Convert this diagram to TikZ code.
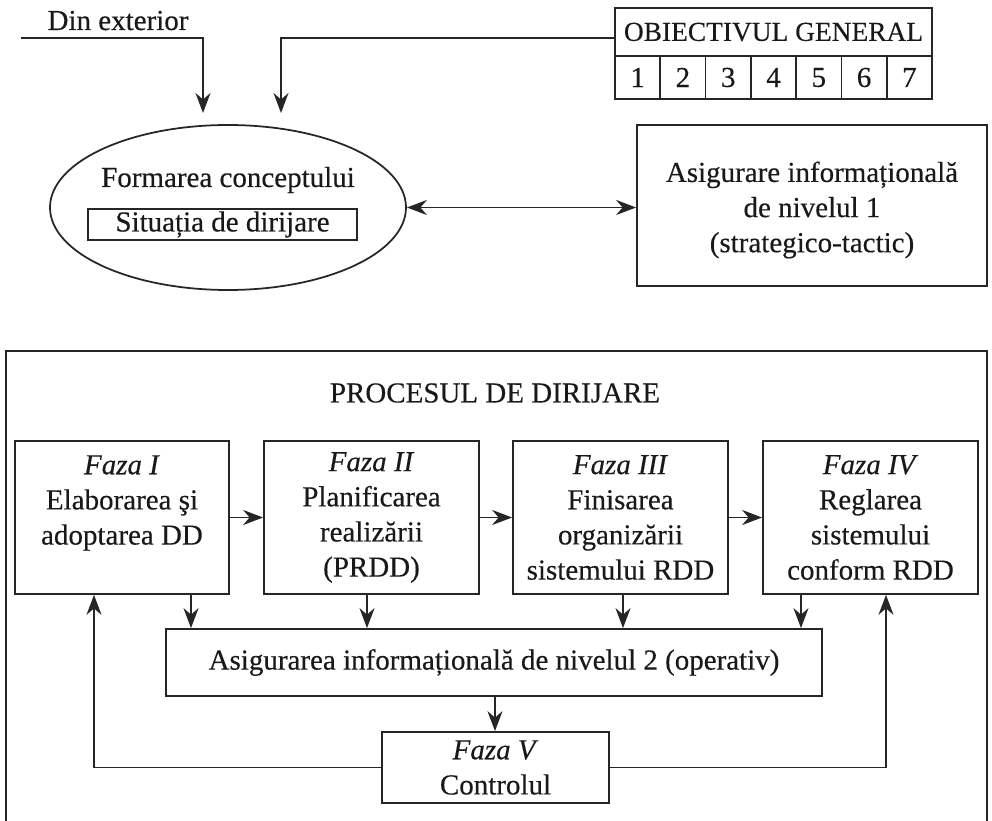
\documentclass[tikz,border=0pt]{standalone}
\usepackage{fontspec}
\setmainfont{Liberation Serif}[FakeBold=0.35]
\usetikzlibrary{arrows.meta,shapes.geometric}
\begin{document}
\begin{tikzpicture}[x=0.02cm,y=-0.02cm,
  every node/.style={font=\fontsize{16.5}{20}\selectfont, text=black!90},
  box/.style={draw=black!85, line width=1pt, rectangle, inner sep=0pt, align=center},
  conn/.style={draw=black!85, line width=1pt},
  tiparrow/.style={-{Stealth[length=4mm,width=3mm,inset=1.3mm]}},
  arr/.style={conn, tiparrow},
  darr/.style={conn, {Stealth[length=4mm,width=3mm,inset=1.3mm]}-{Stealth[length=4mm,width=3mm,inset=1.3mm]}},
]
\useasboundingbox (0,0) rectangle (992,821);

% --- upper part: concept formation ---
\node[anchor=base] (ext) at (118,30) {Din exterior};
\coordinate (extstart) at (21,38);
\coordinate (extend) at (203,113);
\draw[arr] (extstart) -| (extend);

\node[box, minimum width=317*0.02cm, minimum height=48*0.02cm,
      font=\fontsize{15.6}{19}\selectfont] (obj) at (773.5,32) {OBIECTIVUL GENERAL};
\foreach \i in {1,...,7}
  \node[box, minimum width=45.2857*0.02cm, minimum height=43*0.02cm] (c\i) at ({615+45.2857*(\i-0.5)},77.5) {\i};
\coordinate (objend) at (281,113);
\draw[arr] ([yshift=-0.12cm]obj.west) -| (objend);

\node[ellipse, draw=black!85, line width=1pt, minimum width=356*0.02cm, minimum height=165*0.02cm, inner sep=0pt] (conc) at (228,207.5) {};
\node (formtxt) at (228,180) {Formarea conceptului};
\node[box, minimum width=269*0.02cm, minimum height=31*0.02cm] (sit) at (222.5,224.5) {Situația de dirijare};

\node[box, minimum width=350*0.02cm, minimum height=161*0.02cm] (asig1) at (812,205.5) {};
\node[align=center] (asig1txt) at (812,210)
  {Asigurare informațională\\de nivelul 1\\(strategico-tactic)};
\draw[darr] (conc.east) -- (conc.east -| asig1.west);

% --- lower part: the management process ---
\draw[conn] (6,822) -- (6,351) -- (987,351) -- (987,822);
\node (proc) at (495,393) {PROCESUL DE DIRIJARE};

\node[box, minimum width=214*0.02cm, minimum height=153*0.02cm] (f1) at (122,517.5)
  {\textit{Faza I}\\Elaborarea şi\\adoptarea DD\\\mbox{}};
\node[box, minimum width=215*0.02cm, minimum height=153*0.02cm] (f2) at (371.5,517.5)
  {\textit{Faza II}\\Planificarea\\realizării\\(PRDD)};
\node[box, minimum width=215*0.02cm, minimum height=153*0.02cm] (f3) at (620.5,517.5)
  {\textit{Faza III}\\Finisarea\\organizării\\sistemului RDD};
\node[box, minimum width=215*0.02cm, minimum height=153*0.02cm] (f4) at (870.5,517.5)
  {\textit{Faza IV}\\Reglarea\\sistemului\\conform RDD};

\draw[arr] (f1) -- (f2);
\draw[arr] (f2) -- (f3);
\draw[arr] (f3) -- (f4);

\node[box, minimum width=656*0.02cm, minimum height=67*0.02cm] (lvl2) at (494,662.5)
  {Asigurarea informațională de nivelul 2 (operativ)};

\node[box, minimum width=227*0.02cm, minimum height=71*0.02cm] (f5) at (495.5,767.5)
  {\textit{Faza V}\\Controlul};

\coordinate (a1) at (191,0);
\coordinate (a2) at (367,0);
\coordinate (a3) at (623,0);
\coordinate (a4) at (801,0);
\coordinate (a5) at (495,0);
\coordinate (fbl) at (94,0);
\coordinate (fbr) at (886,0);

\draw[arr] (f1.south -| a1) -- (lvl2.north -| a1);
\draw[arr] (f2.south -| a2) -- (lvl2.north -| a2);
\draw[arr] (f3.south -| a3) -- (lvl2.north -| a3);
\draw[arr] (f4.south -| a4) -- (lvl2.north -| a4);
\draw[arr] (lvl2.south -| a5) -- (f5.north -| a5);

\draw[arr] (f5.west) -| (f1.south -| fbl);
\draw[arr] (f5.east) -| (f4.south -| fbr);
\end{tikzpicture}
\end{document}
